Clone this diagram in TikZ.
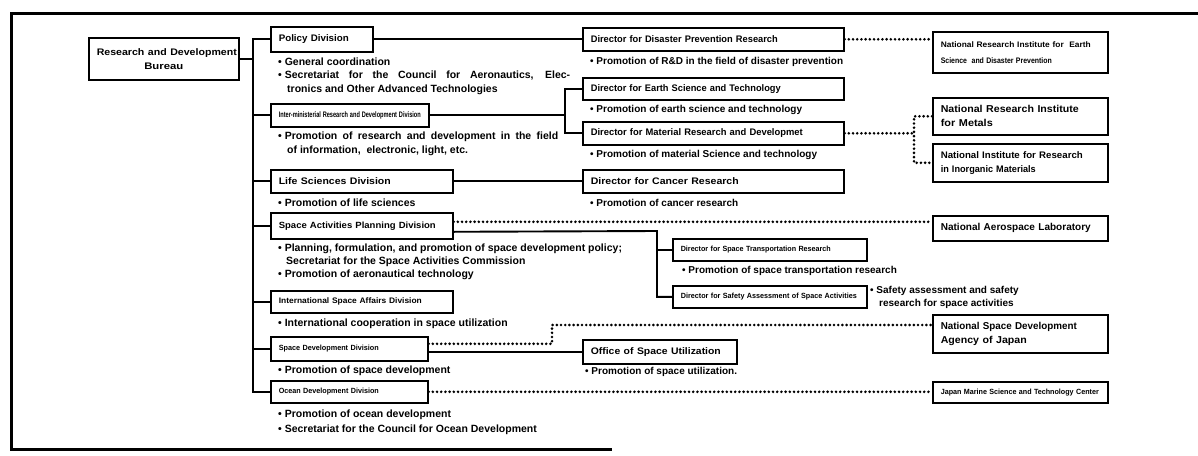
\documentclass[tikz,border=0pt]{standalone}
\usepackage{fontspec}
\usepackage{graphicx}
\setmainfont{Liberation Sans}
\newcommand\fw[2]{\resizebox{#1pt}{\height}{#2}}
\newcommand\sz[1]{\fontsize{#1}{14}\selectfont}
\newcommand\lab{\fontsize{9.5}{14}\selectfont\bfseries}
\newcommand\blt{\fontsize{10.5}{13}\selectfont\bfseries}
\newcommand\brt{\fontsize{10}{13}\selectfont\bfseries}
\begin{document}
\begin{tikzpicture}[x=1pt,y=-1pt,
  box/.style={draw, line width=1.6pt, inner xsep=8pt, inner ysep=0pt, anchor=north west, align=left, font=\lab},
  txt/.style={anchor=west, inner sep=0pt, font=\blt},
  rtxt/.style={anchor=west, inner sep=0pt, font=\brt},
  con/.style={line width=1.9pt},
  dot/.style={line width=2.9pt, line cap=round, dash pattern=on 0pt off 4.2pt},
  frame/.style={line width=3pt}]
\useasboundingbox (0,0) rectangle (1198,455);
\fill[white] (0,0) rectangle (1198,455);
% frame
\draw[frame] (1198,13) -- (11,13) -- (11,449) -- (612,449);

% bureau
\node[box, text width=134pt, minimum height=42pt, align=center] (bureau) at (88,37) {\fw{140}{Research and Development}\\\fw{39}{Bureau}};

% divisions
\node[box, text width=86pt, minimum height=25pt] (policy) at (270,26) {\fw{70}{Policy Division}};
\node[box, text width=142pt, minimum height=23pt, font=\sz{8}\bfseries] (inter) at (270,103) {\fw{142}{Inter-ministerial Research and Development Division}};
\node[box, text width=166pt, minimum height=23pt] (life) at (270,169) {\fw{112}{Life Sciences Division}};
\node[box, text width=166pt, minimum height=26pt, font=\sz{9}\bfseries] (sapd) at (270,212) {\fw{157}{Space Activities Planning Division}};
\node[box, text width=166pt, minimum height=22pt, font=\sz{8}\bfseries] (isad) at (270,290) {\fw{143}{International Space Affairs Division}};
\node[box, text width=141pt, minimum height=24pt, font=\sz{7.5}\bfseries] (sdd) at (270,336) {\fw{100}{Space Development Division}};
\node[box, text width=141pt, minimum height=22pt, font=\sz{7.5}\bfseries] (odd) at (270,380) {\fw{100}{Ocean Development Division}};

% directors
\node[box, text width=245pt, minimum height=23pt] (dis) at (582,27) {\fw{187}{Director for Disaster Prevention Research}};
\node[box, text width=245pt, minimum height=22pt] (earth) at (582,77) {\fw{190}{Director for Earth Science and Technology}};
\node[box, text width=245pt, minimum height=23pt] (mat) at (582,121) {\fw{212}{Director for Material Research and Developmet}};
\node[box, text width=245pt, minimum height=23pt] (cancer) at (582,169) {\fw{148}{Director for Cancer Research}};
\node[box, text width=178pt, minimum height=22pt, font=\sz{7.5}\bfseries] (trans) at (672,238) {\fw{150}{Director for Space Transportation Research}};
\node[box, text width=178pt, minimum height=22pt, font=\sz{7.5}\bfseries] (safety) at (672,285) {\fw{176}{Director for Safety Assessment of Space Activities}};
\node[box, text width=138pt, minimum height=24pt] (office) at (582,339) {\fw{130}{Office of Space Utilization}};

% institutes
\node[box, text width=159pt, minimum height=41pt, font=\fontsize{8}{16}\selectfont\bfseries] (nied) at (932,31) {\fw{150}{National Research Institute for\ \ Earth}\\\fw{111}{Science\ \ and Disaster Prevention}};
\node[box, text width=159pt, minimum height=37pt, font=\fontsize{10}{14}\selectfont\bfseries] (metals) at (932,97) {\fw{138}{National Research Institute}\\\fw{52}{for Metals}};
\node[box, text width=159pt, minimum height=38pt, font=\fontsize{9.5}{14}\selectfont\bfseries] (inorg) at (932,143) {\fw{142}{National Institute for Research}\\\fw{95}{in Inorganic Materials}};
\node[box, text width=159pt, minimum height=25pt, font=\fontsize{10}{14}\selectfont\bfseries] (nal) at (932,215) {\fw{150}{National Aerospace Laboratory}};
\node[box, text width=159pt, minimum height=38pt, font=\fontsize{10}{14}\selectfont\bfseries] (nasda) at (932,314) {\fw{136}{National Space Development}\\\fw{86}{Agency of Japan}};
\node[box, text width=159pt, minimum height=21pt, font=\sz{7.5}\bfseries] (jam) at (932,381) {\fw{158}{Japan Marine Science and Technology Center}};

% bullets, left
\node[txt] (t1) at (278,62) {• General coordination};
\node[txt] (t2) at (278,76) {\makebox[292pt][s]{•\kern3pt Secretariat for the Council for Aeronautics, Elec-}};
\node[txt] (t3) at (287,90) {tronics and Other Advanced Technologies};
\node[txt] (t4) at (278,137) {\makebox[280pt][s]{•\kern3pt Promotion of research and development in the field}};
\node[txt] (t5) at (287,151) {of information,\ \ electronic, light, etc.};
\node[txt] (t6) at (278,203) {• Promotion of life sciences};
\node[txt] (t7) at (278,249) {• Planning, formulation, and promotion of space development policy;};
\node[txt] (t8) at (286,262) {Secretariat for the Space Activities Commission};
\node[txt] (t9) at (278,275) {• Promotion of aeronautical technology};
\node[txt] (t10) at (278,324) {• International cooperation in space utilization};
\node[txt] (t11) at (278,371) {• Promotion of space development};
\node[txt] (t12) at (278,415) {• Promotion of ocean development};
\node[txt] (t13) at (278,430) {• Secretariat for the Council for Ocean Development};

% bullets, right
\node[rtxt] (r1) at (590,62) {• Promotion of R\&D in the field of disaster prevention};
\node[rtxt] (r2) at (590,110) {• Promotion of earth science and technology};
\node[rtxt] (r3) at (590,155) {• Promotion of material Science and technology};
\node[rtxt] (r4) at (590,203) {• Promotion of cancer research};
\node[rtxt] (r5) at (682,271) {• Promotion of space transportation research};
\node[rtxt] (r6) at (870,291) {• Safety assessment and safety};
\node[rtxt] (r7) at (879,304) {research for space activities};
\node[rtxt] (r8) at (585,372) {• Promotion of space utilization.};

% trunk
\coordinate (tx) at (253,0);
\draw[con] (bureau.east) -- (bureau.east -| tx);
\draw[con] (policy.west) -- (policy.west -| tx) -- (odd.west -| tx) -- (odd.west);
\foreach \n in {inter,life,sapd,isad,sdd} \draw[con] (\n.west) -- (\n.west -| tx);

% solid connectors to directors
\draw[con] (policy.east) -- (dis.west);
\draw[con] (life.east) -- (life.east -| cancer.west);
\coordinate (ex) at (565,0);
\draw[con] (inter.east) -- (inter.east -| ex);
\draw[con] (earth.west) -- (earth.west -| ex) -- (mat.west -| ex) -- (mat.west);
\coordinate (sj) at (657,231);
\draw[con] ([yshift=-6pt]sapd.east) -- (sj) |- (safety.west);
\draw[con] (trans.west) -- (trans.west -| sj);
\draw[con] (sdd.east |- office.west) -- (office.west);

% dotted connectors to institutes
\draw[dot] (dis.east) -- (dis.east -| nied.west);
\coordinate (bj) at (914,0);
\draw[dot] (mat.east) -- (mat.east -| bj);
\draw[dot] (metals.west) -- (metals.west -| bj) -- (inorg.west -| bj) -- (inorg.west);
\draw[dot] ([yshift=4pt]sapd.east) -- ([yshift=4pt]sapd.east -| nal.west);
\coordinate (nj) at (552,325);
\draw[dot] ([yshift=5pt]sdd.east) -| (nj) -- (nj -| nasda.west);
\draw[dot] (odd.east) -- (odd.east -| jam.west);
\end{tikzpicture}
\end{document}
